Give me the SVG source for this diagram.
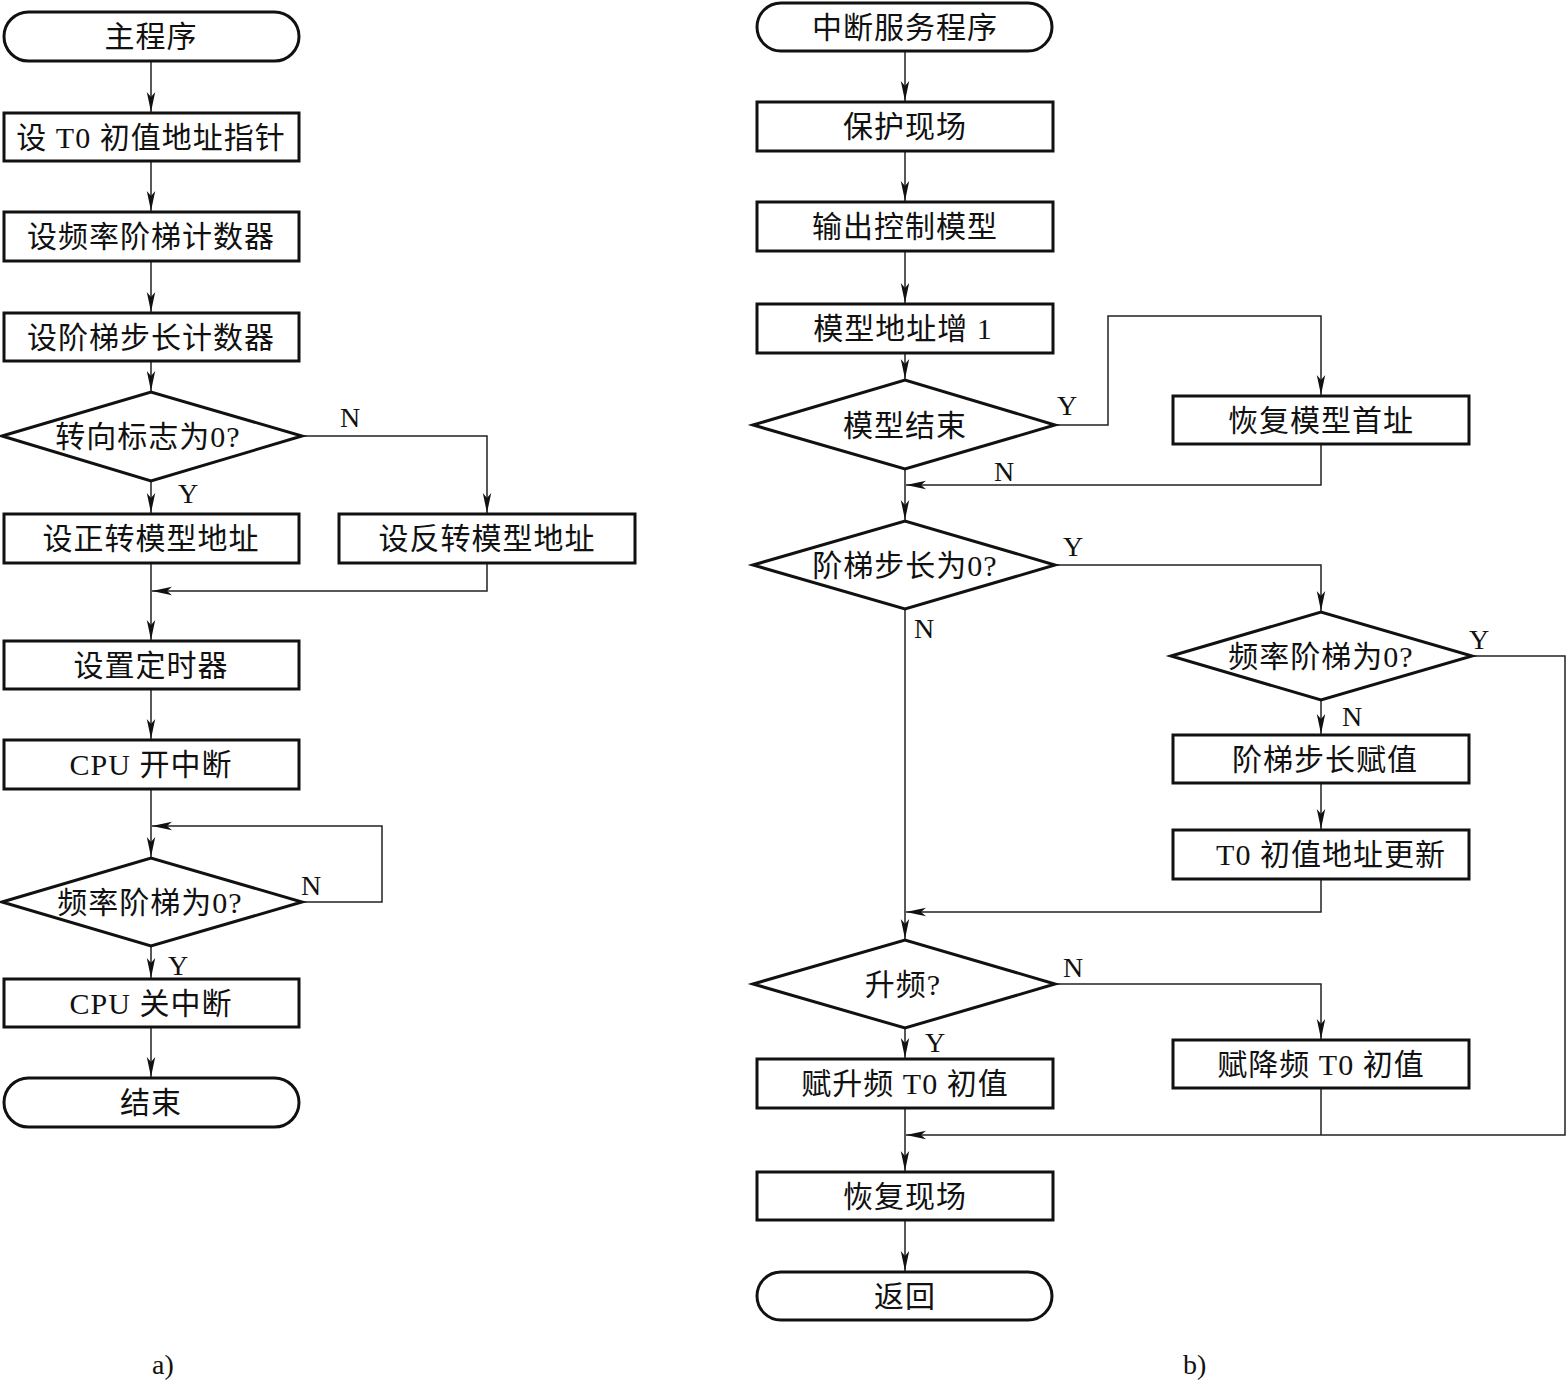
<svg xmlns="http://www.w3.org/2000/svg" width="1567" height="1383" viewBox="0 0 1567 1383">
<style>
.box{fill:#fff;stroke:#111;stroke-width:3}
.ln{fill:none;stroke:#222;stroke-width:1.5}
.t{font-family:"Liberation Serif","Noto Sans CJK SC",serif;font-size:30px;fill:#111;text-anchor:middle;letter-spacing:1px}
.lb{font-family:"Liberation Serif",serif;font-size:28px;fill:#111}
</style>
<defs>
<marker id="ar" markerWidth="22" markerHeight="10" refX="20" refY="5" orient="auto" markerUnits="userSpaceOnUse">
<path d="M0,0.8 L20,5 L0,9.2 L5,5 Z" fill="#111"/>
</marker>
</defs>
<rect width="1567" height="1383" fill="#fff"/>
<g id="connectors">
<!-- left -->
<path class="ln" d="M151,61 V112" marker-end="url(#ar)"/>
<path class="ln" d="M151,161 V211" marker-end="url(#ar)"/>
<path class="ln" d="M151,261 V312" marker-end="url(#ar)"/>
<path class="ln" d="M151,361 V391" marker-end="url(#ar)"/>
<path class="ln" d="M151,481 V513" marker-end="url(#ar)"/>
<path class="ln" d="M302,436 H487 V513" marker-end="url(#ar)"/>
<path class="ln" d="M151,563 V640" marker-end="url(#ar)"/>
<path class="ln" d="M487,563 V591 H152" marker-end="url(#ar)"/>
<path class="ln" d="M151,689 V739" marker-end="url(#ar)"/>
<path class="ln" d="M151,789 V857" marker-end="url(#ar)"/>
<path class="ln" d="M302,902 H382 V826 H152" marker-end="url(#ar)"/>
<path class="ln" d="M151,946 V978" marker-end="url(#ar)"/>
<path class="ln" d="M151,1027 V1077" marker-end="url(#ar)"/>
<!-- right -->
<path class="ln" d="M905,51 V101" marker-end="url(#ar)"/>
<path class="ln" d="M905,151 V201" marker-end="url(#ar)"/>
<path class="ln" d="M905,251 V303" marker-end="url(#ar)"/>
<path class="ln" d="M905,353 V379" marker-end="url(#ar)"/>
<path class="ln" d="M1055,425 H1108 V316 H1321 V395" marker-end="url(#ar)"/>
<path class="ln" d="M1321,444 V485 H906" marker-end="url(#ar)"/>
<path class="ln" d="M905,469 V520" marker-end="url(#ar)"/>
<path class="ln" d="M1055,565 H1321 V611" marker-end="url(#ar)"/>
<path class="ln" d="M905,609 V939" marker-end="url(#ar)"/>
<path class="ln" d="M1321,700 V734" marker-end="url(#ar)"/>
<path class="ln" d="M1321,783 V829" marker-end="url(#ar)"/>
<path class="ln" d="M1321,879 V912 H906" marker-end="url(#ar)"/>
<path class="ln" d="M1472,656 H1565 V1135 H906" marker-end="url(#ar)"/>
<path class="ln" d="M1055,984 H1321 V1039" marker-end="url(#ar)"/>
<path class="ln" d="M905,1028 V1058" marker-end="url(#ar)"/>
<path class="ln" d="M1321,1088 V1135"/>
<path class="ln" d="M905,1108 V1171" marker-end="url(#ar)"/>
<path class="ln" d="M905,1220 V1271" marker-end="url(#ar)"/>
</g>
<g id="labels">
<text class="lb" x="340" y="427">N</text>
<text class="lb" x="178" y="503">Y</text>
<text class="lb" x="301" y="895">N</text>
<text class="lb" x="168" y="975">Y</text>
<text class="lb" x="1057" y="415">Y</text>
<text class="lb" x="994" y="481">N</text>
<text class="lb" x="1063" y="556">Y</text>
<text class="lb" x="914" y="638">N</text>
<text class="lb" x="1469" y="649">Y</text>
<text class="lb" x="1342" y="726">N</text>
<text class="lb" x="1063" y="977">N</text>
<text class="lb" x="925" y="1052">Y</text>
<text class="lb" x="152" y="1374">a)</text>
<text class="lb" x="1183" y="1374">b)</text>
</g>
<!-- left nodes -->
<g id="n_main"><rect class="box" x="4" y="12" width="295" height="49" rx="24.5"/><text class="t" x="151" y="47">主程序</text></g>
<g id="n_t0ptr"><rect class="box" x="4" y="113" width="295" height="48"/><text class="t" x="151" y="148">设 T0 初值地址指针</text></g>
<g id="n_freqcnt"><rect class="box" x="4" y="212" width="295" height="49"/><text class="t" x="151" y="247">设频率阶梯计数器</text></g>
<g id="n_stepcnt"><rect class="box" x="4" y="313" width="295" height="48"/><text class="t" x="151" y="348">设阶梯步长计数器</text></g>
<g id="n_dir"><polygon class="box" points="2,436 151,392 302,436 151,481"/><text class="t" x="148" y="447">转向标志为0?</text></g>
<g id="n_fwd"><rect class="box" x="4" y="514" width="295" height="49"/><text class="t" x="151" y="549">设正转模型地址</text></g>
<g id="n_rev"><rect class="box" x="339" y="514" width="296" height="49"/><text class="t" x="487" y="549">设反转模型地址</text></g>
<g id="n_timer"><rect class="box" x="4" y="641" width="295" height="48"/><text class="t" x="151" y="676">设置定时器</text></g>
<g id="n_cpuon"><rect class="box" x="4" y="740" width="295" height="49"/><text class="t" x="151" y="775">CPU 开中断</text></g>
<g id="n_freq0a"><polygon class="box" points="2,902 151,858 302,902 151,946"/><text class="t" x="150" y="913">频率阶梯为0?</text></g>
<g id="n_cpuoff"><rect class="box" x="4" y="979" width="295" height="48"/><text class="t" x="151" y="1014">CPU 关中断</text></g>
<g id="n_end"><rect class="box" x="4" y="1078" width="295" height="49" rx="24.5"/><text class="t" x="151" y="1113">结束</text></g>
<!-- right nodes -->
<g id="n_isr"><rect class="box" x="757" y="3" width="295" height="48" rx="24"/><text class="t" x="905" y="38">中断服务程序</text></g>
<g id="n_save"><rect class="box" x="757" y="102" width="296" height="49"/><text class="t" x="905" y="137">保护现场</text></g>
<g id="n_out"><rect class="box" x="757" y="202" width="296" height="49"/><text class="t" x="905" y="237">输出控制模型</text></g>
<g id="n_inc"><rect class="box" x="757" y="304" width="296" height="49"/><text class="t" x="903" y="339">模型地址增 1</text></g>
<g id="n_modend"><polygon class="box" points="753,425 905,380 1055,425 905,469"/><text class="t" x="905" y="436">模型结束</text></g>
<g id="n_restoreaddr"><rect class="box" x="1173" y="396" width="296" height="48"/><text class="t" x="1321" y="431">恢复模型首址</text></g>
<g id="n_step0"><polygon class="box" points="753,565 905,521 1055,565 905,609"/><text class="t" x="905" y="576">阶梯步长为0?</text></g>
<g id="n_freq0b"><polygon class="box" points="1171,656 1321,612 1472,656 1321,700"/><text class="t" x="1321" y="667">频率阶梯为0?</text></g>
<g id="n_stepset"><rect class="box" x="1173" y="735" width="296" height="48"/><text class="t" x="1325" y="770">阶梯步长赋值</text></g>
<g id="n_t0upd"><rect class="box" x="1173" y="830" width="296" height="49"/><text class="t" x="1331" y="865">T0 初值地址更新</text></g>
<g id="n_up"><polygon class="box" points="753,984 905,940 1055,984 905,1028"/><text class="t" x="903" y="995">升频?</text></g>
<g id="n_upset"><rect class="box" x="757" y="1059" width="296" height="49"/><text class="t" x="905" y="1094">赋升频 T0 初值</text></g>
<g id="n_downset"><rect class="box" x="1173" y="1040" width="296" height="48"/><text class="t" x="1321" y="1075">赋降频 T0 初值</text></g>
<g id="n_restore"><rect class="box" x="757" y="1172" width="296" height="48"/><text class="t" x="905" y="1207">恢复现场</text></g>
<g id="n_ret"><rect class="box" x="757" y="1272" width="295" height="48" rx="24"/><text class="t" x="905" y="1307">返回</text></g>
</svg>
